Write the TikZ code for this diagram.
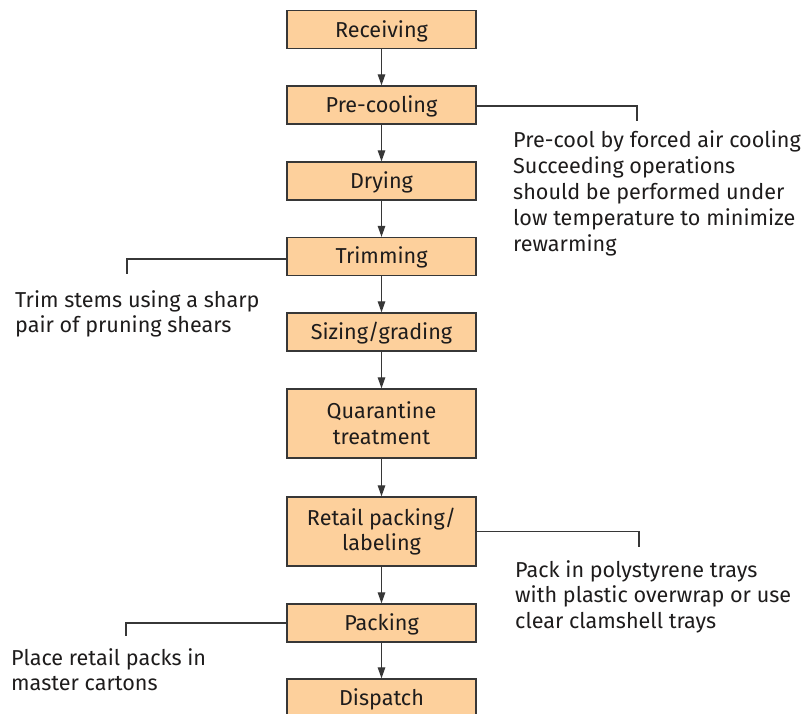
\documentclass[tikz,border=0pt]{standalone}
\usepackage{fontspec}
\setmainfont{Fira Sans}
\usetikzlibrary{arrows.meta}
\definecolor{boxfill}{RGB}{253,208,156}
\definecolor{ink}{RGB}{30,28,28}
\definecolor{edge}{RGB}{55,55,55}
\newcommand{\mainsize}{\fontsize{21.6}{25.8}\selectfont}
\begin{document}
\begin{tikzpicture}[x=1pt,y=-1pt,
  stepbox/.style={draw=edge, line width=1.3pt, fill=boxfill, minimum width=189pt, minimum height=38pt, inner sep=0pt, align=center, font=\mainsize, text=ink},
  onebox/.style={stepbox, text height=15pt, text depth=0pt},
  twobox/.style={stepbox, minimum height=69pt},
  flow/.style={draw=edge, line width=1.2pt, -{Triangle[length=11pt,width=7.5pt]}},
  callout/.style={draw=edge, line width=1.1pt},
  note/.style={anchor=base west, inner sep=0pt, font=\mainsize, text=ink}]
\useasboundingbox (0,0) rectangle (806,714);
\clip (0,0) rectangle (806,714);
\node[onebox] (rec) at (381.5,29.7) {Receiving};
\node[onebox] (pre) at (381.5,105) {Pre-cooling};
\node[onebox] (dry) at (381.5,181) {Drying};
\node[onebox] (trim) at (381.5,256.5) {Trimming};
\node[onebox] (size) at (381.5,332) {Sizing/grading};
\node[twobox] (quar) at (381.5,423.5) {Quarantine\\treatment};
\node[twobox] (ret) at (381.5,531.5) {Retail packing/\\labeling};
\node[onebox] (pack) at (381.5,623) {Packing};
\node[onebox] (disp) at (381.5,698) {Dispatch};
\draw[flow] (rec) -- (pre);
\draw[flow] (pre) -- (dry);
\draw[flow] (dry) -- (trim);
\draw[flow] (trim) -- (size);
\draw[flow] (size) -- (quar);
\draw[flow] (quar) -- (ret);
\draw[flow] (ret) -- (pack);
\draw[flow] (pack) -- (disp);
\coordinate (c1) at (637,121);
\coordinate (c2) at (127,274);
\coordinate (c3) at (639,547);
\coordinate (c4) at (126,636);
\draw[callout] ([yshift=-1pt]pre.east) -| (c1);
\draw[callout] ([yshift=-2.5pt]trim.west) -| (c2);
\draw[callout] (ret.east) -| (c3);
\draw[callout] (pack.west) -| (c4);
\node[note] (n1) at (513,148) {\begin{tabular}[t]{@{}l@{}}Pre-cool by forced air cooling\\Succeeding operations\\should be performed under\\low temperature to minimize\\rewarming\end{tabular}};
\node[note] (n2) at (15,307) {\begin{tabular}[t]{@{}l@{}}Trim stems using a sharp\\pair of pruning shears\end{tabular}};
\node[note] (n3) at (515,577) {\begin{tabular}[t]{@{}l@{}}Pack in polystyrene trays\\with plastic overwrap or use\\clear clamshell trays\end{tabular}};
\node[note] (n4) at (11,665) {\begin{tabular}[t]{@{}l@{}}Place retail packs in\\master cartons\end{tabular}};
\end{tikzpicture}
\end{document}
